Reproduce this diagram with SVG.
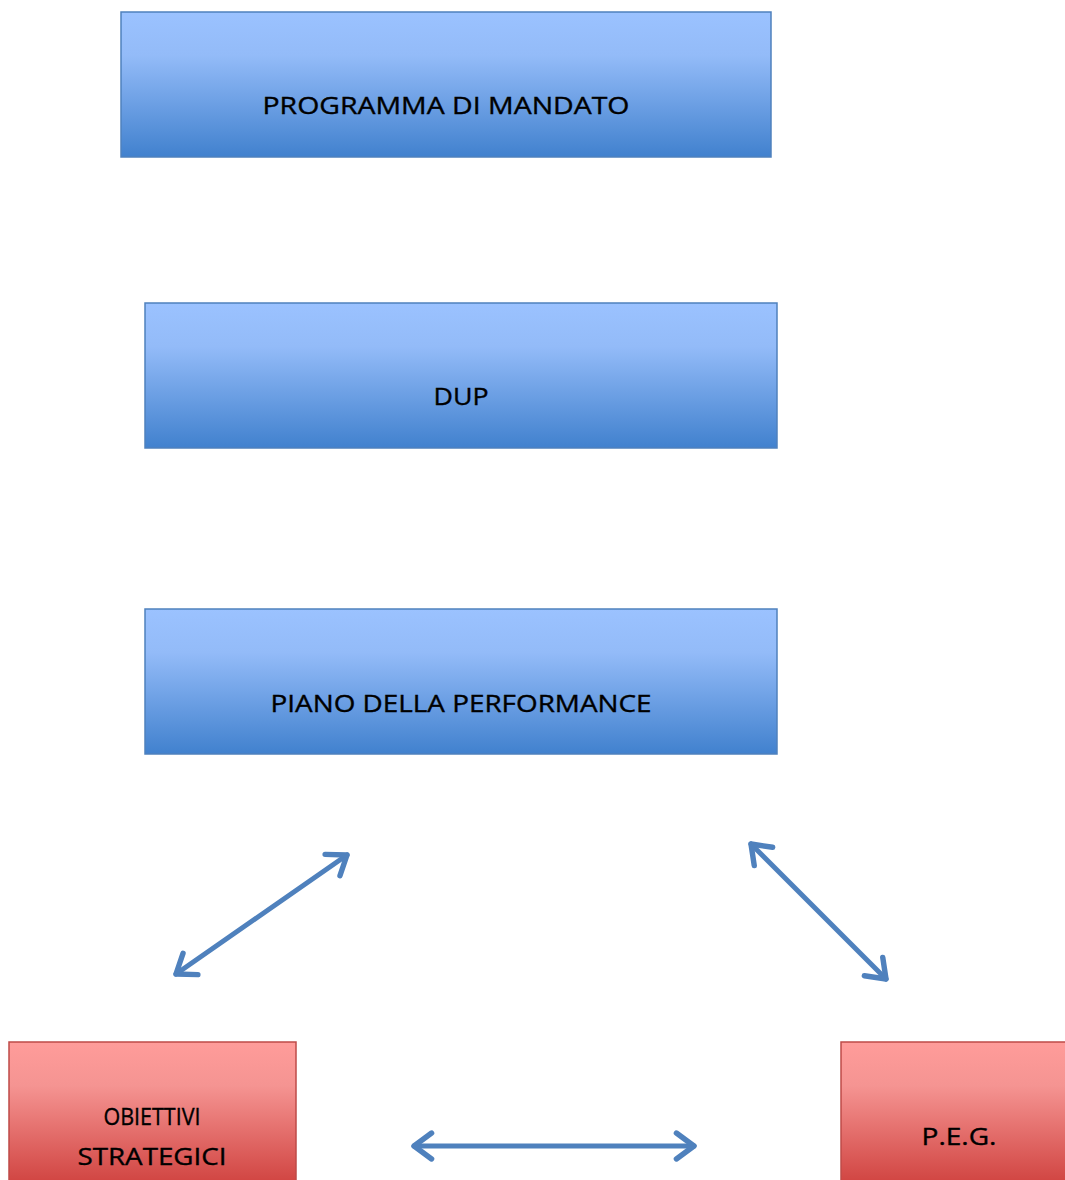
<svg xmlns="http://www.w3.org/2000/svg" width="1065" height="1180" viewBox="0 0 1065 1180">
<style>
.blue{fill:url(#gb);stroke:#4F81BD;stroke-width:1.5}
.red{fill:url(#gr);stroke:#BE4B48;stroke-width:1.5}
.t{font-family:"Open Sans","Liberation Sans",sans-serif;font-size:24px;fill:#000;stroke:#000;stroke-width:0.35;text-anchor:middle}
.c{stroke:#4F81BD;stroke-width:5;fill:none;stroke-linecap:round;marker-start:url(#ah);marker-end:url(#ah)}
</style>
<defs>
<linearGradient id="gb" x1="0" y1="0" x2="0" y2="1">
<stop offset="0" stop-color="#9BC2FF"/><stop offset="0.3" stop-color="#93BBF8"/><stop offset="1" stop-color="#4181CE"/>
</linearGradient>
<linearGradient id="gr" x1="0" y1="0" x2="0" y2="1">
<stop offset="0" stop-color="#FF9C9A"/><stop offset="0.3" stop-color="#F59492"/><stop offset="1" stop-color="#CF413E"/>
</linearGradient>
<marker id="ah" viewBox="0 0 12 12" refX="10" refY="6" markerWidth="6.5" markerHeight="6.5" markerUnits="strokeWidth" orient="auto-start-reverse">
<path d="M3.5,1.2 L10,6 L3.5,10.8" fill="none" stroke="#4F81BD" stroke-width="2" stroke-linecap="round" stroke-linejoin="round"/>
</marker>
</defs>
<g id="node-programma">
<rect class="blue" x="121" y="12" width="650" height="145"/>
<text class="t" x="446" y="114" textLength="367" lengthAdjust="spacingAndGlyphs">PROGRAMMA DI MANDATO</text>
</g>
<g id="node-dup">
<rect class="blue" x="145" y="303" width="632" height="145"/>
<text class="t" x="461" y="405" textLength="55" lengthAdjust="spacingAndGlyphs">DUP</text>
</g>
<g id="node-piano">
<rect class="blue" x="145" y="609" width="632" height="145"/>
<text class="t" x="461" y="712" textLength="381" lengthAdjust="spacingAndGlyphs">PIANO DELLA PERFORMANCE</text>
</g>
<g id="node-obiettivi">
<rect class="red" x="9" y="1042" width="287" height="145"/>
<text class="t" x="152" y="1125" textLength="97" lengthAdjust="spacingAndGlyphs">OBIETTIVI</text>
<text class="t" x="152" y="1165" textLength="149" lengthAdjust="spacingAndGlyphs">STRATEGICI</text>
</g>
<g id="node-peg">
<rect class="red" x="841" y="1042" width="240" height="145"/>
<text class="t" x="959" y="1145" textLength="75" lengthAdjust="spacingAndGlyphs">P.E.G.</text>
</g>
<g id="connectors">
<line class="c" x1="176" y1="974" x2="347" y2="855"/>
<line class="c" x1="751" y1="844" x2="886" y2="979"/>
<line class="c" x1="414" y1="1146" x2="694" y2="1146"/>
</g>
</svg>
